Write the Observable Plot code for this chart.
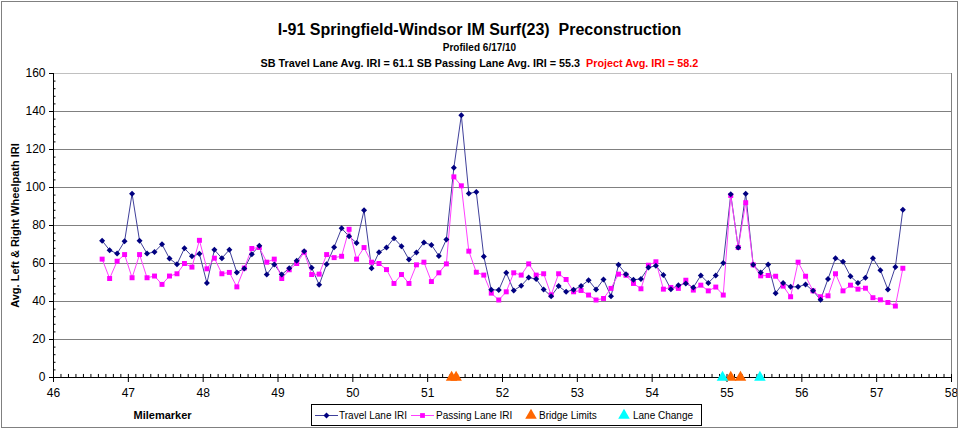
<!DOCTYPE html>
<html><head><meta charset="utf-8">
<script src="https://cdn.jsdelivr.net/npm/d3@7"></script>
<script src="https://cdn.jsdelivr.net/npm/@observablehq/plot@0.6"></script>
<style>
body{margin:0;background:#fff;font-family:"Liberation Sans",Arial,sans-serif;color:#000}
#wrap{position:relative;width:959px;height:429px;overflow:hidden;background:#fff}
#chart{position:absolute;left:0;top:0}
.t{position:absolute;left:0;width:959px;text-align:center;font-weight:bold;white-space:nowrap}
#frame{position:absolute;left:1px;top:1px;width:955px;height:425px;border:1px solid #808080;pointer-events:none}
#legend{position:absolute;left:311px;top:404px}
</style></head><body>
<div id="wrap">
 <div id="chart"></div>
 <div class="t" style="top:22px;font-size:16px;line-height:16px">I-91 Springfield-Windsor IM Surf(23)&nbsp; Preconstruction</div>
 <div class="t" style="top:43px;font-size:10px;line-height:10px">Profiled 6/17/10</div>
 <div class="t" style="top:58px;font-size:10.8px;line-height:11px">SB Travel Lane Avg. IRI = 61.1 SB Passing Lane Avg. IRI = 55.3&nbsp; <span style="color:#ff0000">Project Avg. IRI = 58.2</span></div>
 <svg id="legend" width="392" height="23"></svg>
 <div id="frame"></div>
</div>
<script>
const milemarker = [
 46.65,46.75,46.85,46.95,47.05,47.15,47.25,47.35,47.45,47.55,
 47.65,47.75,47.85,47.95,48.05,48.15,48.25,48.35,48.45,48.55,
 48.65,48.75,48.85,48.95,49.05,49.15,49.25,49.35,49.45,49.55,
 49.65,49.75,49.85,49.95,50.05,50.15,50.25,50.35,50.45,50.55,
 50.65,50.75,50.85,50.95,51.05,51.15,51.25,51.35,51.45,51.55,
 51.65,51.75,51.85,51.95,52.05,52.15,52.25,52.35,52.45,52.55,
 52.65,52.75,52.85,52.95,53.05,53.15,53.25,53.35,53.45,53.55,
 53.65,53.75,53.85,53.95,54.05,54.15,54.25,54.35,54.45,54.55,
 54.65,54.75,54.85,54.95,55.05,55.15,55.25,55.35,55.45,55.55,
 55.65,55.75,55.85,55.95,56.05,56.15,56.25,56.35,56.45,56.55,
 56.65,56.75,56.85,56.95,57.05,57.15,57.25,57.35
];
const travelIRI = [
 72.0,67.0,65.2,71.7,96.7,72.0,65.2,66.1,70.1,62.6,59.6,68.0,63.8,65.1,49.7,67.2,62.8,67.2,55.3,57.4,64.9,69.3,54.2,
 59.5,54.2,57.5,61.4,66.5,57.7,48.8,59.6,68.6,78.5,74.3,70.8,88.0,57.5,65.9,68.4,73.3,69.1,62.1,65.8,71.0,69.8,64.0,
 72.6,110.4,138.0,96.9,97.6,63.7,46.2,46.0,55.1,45.8,48.3,52.6,51.8,46.3,42.8,48.1,45.1,46.2,48.1,51.2,46.3,51.6,
 42.7,59.3,54.4,51.4,51.9,57.9,58.8,54.0,46.5,48.6,49.5,47.4,53.7,49.8,53.7,60.2,96.4,68.4,96.7,59.3,55.3,
 59.5,44.4,49.7,47.7,47.7,49.0,45.6,40.9,51.9,62.8,60.9,53.3,49.7,52.5,62.8,56.5,46.3,58.2,88.3
];
const passingIRI = [
 62.3,52.1,61.2,64.7,52.5,64.7,52.5,53.4,49.0,53.4,54.6,60.0,58.1,72.2,57.2,62.8,54.6,55.3,47.7,57.6,67.9,68.4,60.7,
 62.3,52.1,56.7,60.0,65.9,54.2,54.4,64.7,63.1,63.8,78.0,62.3,68.4,60.7,60.0,56.8,49.5,54.2,49.5,59.3,60.7,50.5,55.1,
 59.8,105.6,100.9,66.5,55.4,53.9,44.4,40.8,45.1,55.1,53.9,59.8,53.9,54.6,43.5,54.6,51.6,45.1,45.8,43.4,40.8,41.6,
 46.9,54.4,53.8,49.5,46.7,59.1,60.9,46.5,47.4,46.9,51.2,46.0,48.6,45.6,47.6,43.4,95.8,68.4,92.0,59.3,53.5,
 53.7,53.3,48.1,42.5,60.7,53.3,45.6,42.5,43.0,54.6,45.6,48.6,46.5,47.0,42.0,40.9,39.5,37.6,57.5
];
const bridgeLimits = [51.32, 51.38, 55.05, 55.18];
const laneChange = [54.94, 55.44];
const xTicks = [46,47,48,49,50,51,52,53,54,55,56,57,58];
const yTicks = [0,20,40,60,80,100,120,140,160];
const seriesNames = ["Travel Lane IRI","Passing Lane IRI","Bridge Limits","Lane Change"];
const yTitle = "Avg. Left & Right Wheelpath IRI";
const xTitle = "Milemarker";

const travel = milemarker.map((m,i)=>({m, v: travelIRI[i]}));
const passing = milemarker.map((m,i)=>({m, v: passingIRI[i]}));
const xMinor = d3.range(460,581).map(d=>d/10);
const yMinor = d3.range(0,161,4).filter(d=>d%20!==0);
const pxPerMile = (959-53-8)/12;

const chart = Plot.plot({
  width:959, height:429,
  marginLeft:53, marginRight:8, marginTop:73, marginBottom:52,
  x:{domain:[46,58]}, y:{domain:[0,160]},
  style:{fontFamily:"Liberation Sans, Arial, sans-serif", fontSize:"12px", background:"transparent", color:"#000", overflow:"visible"},
  marks:[
    Plot.ruleY(yTicks.filter(d=>d>0 && d<160), {stroke:"#808080", strokeWidth:1.2}),
    Plot.ruleY([160], {stroke:"#c0c0c0", strokeWidth:1.2}),
    Plot.ruleX([58], {y1:0, y2:160, stroke:"#808080"}),
    Plot.ruleX([46], {y1:0, y2:160, stroke:"#000"}),
    Plot.ruleY([0], {stroke:"#000"}),
    Plot.ruleX(xMinor, {x:d=>d, y1:0, y2:1.6, stroke:"#000"}),
    Plot.ruleY(yMinor, {y:d=>d, x1:46, x2:46+2.5/pxPerMile, stroke:"#000"}),
    Plot.axisX({ticks:xTicks, tickSize:5, tickPadding:6, tickFormat:d=>d, fontSize:12, label:null}),
    Plot.axisY({ticks:yTicks, tickSize:4, tickPadding:4, tickFormat:d=>d, fontSize:12, label:null}),
    Plot.line(travel, {x:"m", y:"v", stroke:"#40409a", strokeWidth:1}),
    Plot.line(passing, {x:"m", y:"v", stroke:"#ff40ff", strokeWidth:1}),
    Plot.dot(passing, {x:"m", y:"v", symbol:"square", r:2.8, fill:"#ff00ff", stroke:"none"}),
    Plot.dot(travel, {x:"m", y:"v", symbol:"diamond2", r:2.7, fill:"#000080", stroke:"none"}),
    Plot.dot(bridgeLimits, {x:d=>d, y:()=>0, symbol:"triangle", r:4.3, fill:"#ff6600", stroke:"none"}),
    Plot.dot(laneChange, {x:d=>d, y:()=>0, symbol:"triangle", r:4.3, fill:"#00ffff", stroke:"none"}),
    Plot.text([yTitle], {frameAnchor:"left", dx:-38, rotate:-90, textAnchor:"middle", fontWeight:"bold", fontSize:11}),
    Plot.text([xTitle], {frameAnchor:"bottom-left", dx:80, dy:41, fontWeight:"bold", fontSize:11, textAnchor:"start"})
  ]
});
document.getElementById("chart").appendChild(chart);

// legend
const lg = d3.select("#legend");
lg.append("rect").attr("x",0.5).attr("y",0.5).attr("width",390).attr("height",21).attr("fill","#fff").attr("stroke","#000");
const cy = 11.5;
const items = [
  {x:4, kind:"line", color:"#40409a", mark:"#000080", sym:d3.symbolDiamond2, tx:28},
  {x:100, kind:"line", color:"#ff40ff", mark:"#ff00ff", sym:d3.symbolSquare, tx:125},
  {x:220, kind:"tri", mark:"#ff6600", tx:228},
  {x:313, kind:"tri", mark:"#00ffff", tx:322}
];
items.forEach((it,i)=>{
  if(it.kind==="line"){
    lg.append("line").attr("x1",it.x).attr("x2",it.x+23).attr("y1",cy).attr("y2",cy).attr("stroke",it.color);
    lg.append("path").attr("d",d3.symbol(it.sym, Math.PI*2.7*2.7)()).attr("transform",`translate(${it.x+11.5},${cy})`).attr("fill",it.mark);
  } else {
    lg.append("path").attr("d",d3.symbol(d3.symbolTriangle, Math.PI*4.3*4.3)()).attr("transform",`translate(${it.x},${cy})`).attr("fill",it.mark);
  }
  lg.append("text").attr("x",it.tx).attr("y",cy+3.5).attr("font-size",10).attr("font-family","Liberation Sans, Arial, sans-serif").text(seriesNames[i]);
});
</script>
</body></html>
